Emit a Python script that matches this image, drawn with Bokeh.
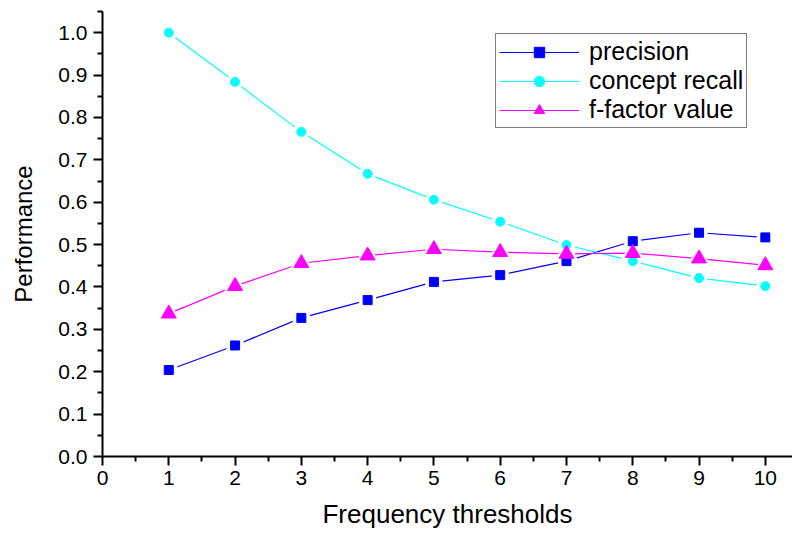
from bokeh.plotting import figure
from bokeh.models import Range1d, FixedTicker, PrintfTickFormatter, Legend, LegendItem
from bokeh.embed import file_html
from bokeh.resources import INLINE

thresholds = [1, 2, 3, 4, 5, 6, 7, 8, 9, 10]
precision = [0.204, 0.262, 0.327, 0.369, 0.412, 0.428, 0.461, 0.508, 0.528, 0.517]
concept_recall = [1.0, 0.884, 0.766, 0.667, 0.606, 0.554, 0.499, 0.461, 0.421, 0.402]
f_factor = [0.337, 0.402, 0.456, 0.474, 0.489, 0.482, 0.478, 0.480, 0.467, 0.451]

x_ticks = [0, 1, 2, 3, 4, 5, 6, 7, 8, 9, 10]
x_minor = [0.5, 1.5, 2.5, 3.5, 4.5, 5.5, 6.5, 7.5, 8.5, 9.5]
y_ticks = [0.0, 0.1, 0.2, 0.3, 0.4, 0.5, 0.6, 0.7, 0.8, 0.9, 1.0]
y_minor = [0.05, 0.15, 0.25, 0.35, 0.45, 0.55, 0.65, 0.75, 0.85, 0.95, 1.05]

FONT = "Liberation Sans"

p = figure(width=792, height=533, output_backend="svg", toolbar_location=None,
           x_range=Range1d(0, 10.41), y_range=Range1d(0, 1.05),
           min_border_left=102, min_border_right=0, min_border_top=11,
           min_border_bottom=77)
p.outline_line_color = None
p.xgrid.visible = False
p.ygrid.visible = False
p.background_fill_color = "white"
p.border_fill_color = "white"

for ax in (p.xaxis[0], p.yaxis[0]):
    ax.axis_line_width = 2
    ax.axis_line_color = "black"
    ax.major_tick_line_width = 2
    ax.minor_tick_line_width = 2
    ax.major_tick_out = 9
    ax.major_tick_in = 0
    ax.minor_tick_out = 5
    ax.minor_tick_in = 0
    ax.major_label_text_font = FONT
    ax.major_label_text_font_size = "21px"
    ax.major_label_text_color = "black"
    ax.axis_label_text_font = FONT
    ax.axis_label_text_font_style = "normal"
    ax.axis_label_text_color = "black"

p.xaxis[0].axis_label_text_font_size = "26px"
p.yaxis[0].axis_label_text_font_size = "24px"
p.xaxis[0].ticker = FixedTicker(ticks=x_ticks, minor_ticks=x_minor)
p.yaxis[0].ticker = FixedTicker(ticks=y_ticks, minor_ticks=y_minor)
p.yaxis[0].formatter = PrintfTickFormatter(format="%.1f")
p.xaxis[0].axis_label = "Frequency thresholds"
p.yaxis[0].axis_label = "Performance"
p.xaxis[0].major_label_standoff = 5
p.xaxis[0].axis_label_standoff = 11
p.yaxis[0].major_label_standoff = 6
p.yaxis[0].axis_label_standoff = 18

series = [
    (precision, "#0000FF", "square", 9, "precision"),
    (concept_recall, "#00FFFF", "circle", 9, "concept recall"),
    (f_factor, "#FF00FF", "triangle", 15, "f-factor value"),
]

lines = []
for vals, color, marker, size, label in series:
    lines.append(p.line(thresholds, vals, line_color=color, line_width=1.2))

for vals, color, marker, size, label in series:
    p.scatter(thresholds, vals, marker=marker, size=size + 7,
              fill_color="white", line_color="white")

items = []
for (vals, color, marker, size, label), ln in zip(series, lines):
    sc = p.scatter(thresholds, vals, marker=marker, size=size,
                   fill_color=color, line_color=color)
    items.append(LegendItem(label=label, renderers=[ln, sc]))

legend = Legend(items=items, location=(393, 328))
legend.border_line_color = "black"
legend.border_line_width = 1.5
legend.background_fill_color = "white"
legend.background_fill_alpha = 1
legend.label_text_font = FONT
legend.label_text_font_size = "25px"
legend.label_text_color = "black"
legend.glyph_width = 80
legend.glyph_height = 26
legend.label_height = 26
legend.label_standoff = 10
legend.spacing = 0
legend.padding = 3
legend.margin = 0
p.add_layout(legend)

open("out.html", "w").write(file_html(p, INLINE))
